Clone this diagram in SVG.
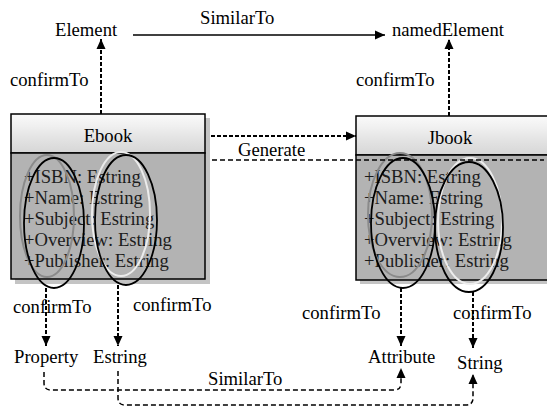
<svg xmlns="http://www.w3.org/2000/svg" width="547" height="416" viewBox="0 0 547 416" font-family="'Liberation Serif', 'Times New Roman', Times, serif" font-size="18.67">
  <defs>
    <linearGradient id="hdr" x1="0" y1="0" x2="0" y2="1">
      <stop offset="0" stop-color="#fafafa"/>
      <stop offset="0.3" stop-color="#f0f0f0"/>
      <stop offset="0.6" stop-color="#e4e4e4"/>
      <stop offset="1" stop-color="#d6d6d6"/>
    </linearGradient>
    <marker id="ah" viewBox="0 0 10 10" refX="10" refY="5" markerWidth="10" markerHeight="10" markerUnits="userSpaceOnUse" orient="auto">
      <path d="M0,0.5 L10,5 L0,9.5 Z" fill="#000"/>
    </marker>
    <style>
      text { fill: #000; }
      .attr { fill: #1c1c1c; }
      .shadow { fill: #c4c4c4; }
      .head { fill: url(#hdr); stroke: #000; stroke-width: 1.5; }
      .body { fill: #b3b3b3; stroke: #000; stroke-width: 1.5; }
      .ring-dark { fill: none; stroke: #000; stroke-width: 1.8; }
      .ring-grey { fill: none; stroke: #8a8a8a; stroke-width: 2; }
      .ring-light { fill: none; stroke: #ececec; stroke-width: 2; }
      .dash { fill: none; stroke: #000; stroke-width: 2; stroke-dasharray: 4 2; }
      .dash-thin { fill: none; stroke: #000; stroke-width: 1.5; stroke-dasharray: 5 3; }
      .solid { fill: none; stroke: #000; stroke-width: 1.5; }
    </style>
  </defs>

  <!-- connectors -->
  <g id="connectors">
    <line class="solid" x1="133" y1="35" x2="385" y2="35" marker-end="url(#ah)"/>
    <line class="dash" x1="101" y1="114" x2="101" y2="39" marker-end="url(#ah)"/>
    <line class="dash" x1="449" y1="116" x2="449" y2="39" marker-end="url(#ah)"/>
    <line class="dash" x1="205" y1="136" x2="356" y2="136" stroke-width="2.5" marker-end="url(#ah)"/>
    <path class="dash-thin" d="M148,160 L544,160"/>
    <line class="dash-thin" x1="544" y1="161" x2="502" y2="177" marker-end="url(#ah)"/>
    <line class="dash" x1="46" y1="288" x2="46" y2="346" marker-end="url(#ah)"/>
    <line class="dash" x1="118" y1="285" x2="118" y2="346" marker-end="url(#ah)"/>
    <line class="dash" x1="401" y1="288" x2="401" y2="346" marker-end="url(#ah)"/>
    <line class="dash" x1="473" y1="292" x2="473" y2="348" marker-end="url(#ah)"/>
    <path class="dash-thin" d="M44,372 L44,383 Q44,390 51,390 L394,390 Q401,390 401,383 L401,368" marker-end="url(#ah)"/>
    <path class="dash-thin" d="M118,371 L118,398 Q118,405 125,405 L466,405 Q473,405 473,398 L473,374" marker-end="url(#ah)"/>
  </g>

  <!-- connector labels -->
  <g id="labels">
    <text x="200" y="24">SimilarTo</text>
    <text x="10" y="86">confirmTo</text>
    <text x="356" y="86">confirmTo</text>
    <text x="238" y="156">Generate</text>
    <text x="13" y="313">confirmTo</text>
    <text x="133" y="311">confirmTo</text>
    <text x="302" y="319">confirmTo</text>
    <text x="453" y="319">confirmTo</text>
    <text x="208" y="385">SimilarTo</text>
  </g>

  <g id="element"><text x="55" y="36">Element</text></g>
  <g id="namedElement"><text x="392" y="36">namedElement</text></g>
  <g id="property"><text x="14" y="363">Property</text></g>
  <g id="estring"><text x="93" y="363">Estring</text></g>
  <g id="attribute"><text x="368" y="363">Attribute</text></g>
  <g id="string"><text x="457" y="369">String</text></g>

  <!-- Ebook class -->
  <g id="ebook">
    <rect class="shadow" x="15" y="118" width="195" height="166"/>
    <rect class="head" x="11" y="114" width="194" height="39"/>
    <rect class="body" x="11" y="153" width="194" height="126"/>
    <text x="108" y="142" text-anchor="middle">Ebook</text>
    <text class="attr" x="24" y="183">+ISBN: Estring</text>
    <text class="attr" x="24" y="204">+Name: Estring</text>
    <text class="attr" x="24" y="225">+Subject: Estring</text>
    <text class="attr" x="24" y="246">+Overview: Estring</text>
    <text class="attr" x="24" y="267">+Publisher: Estring</text>
    <ellipse class="ring-grey" cx="47" cy="216" rx="27" ry="61"/>
    <ellipse class="ring-dark" cx="54" cy="223" rx="30" ry="65"/>
    <ellipse class="ring-light" cx="121" cy="214" rx="29" ry="62"/>
    <ellipse class="ring-dark" cx="126" cy="220" rx="31" ry="65"/>
  </g>

  <!-- Jbook class -->
  <g id="jbook">
    <rect class="shadow" x="360" y="120" width="190" height="164"/>
    <rect class="head" x="356" y="116" width="193" height="39"/>
    <rect class="body" x="356" y="155" width="193" height="125"/>
    <text x="450" y="144" text-anchor="middle">Jbook</text>
    <text class="attr" x="364" y="183">+ISBN: Estring</text>
    <text class="attr" x="364" y="204">+Name: Estring</text>
    <text class="attr" x="364" y="225">+Subject: Estring</text>
    <text class="attr" x="364" y="246">+Overview: Estring</text>
    <text class="attr" x="364" y="267">+Publisher: Estring</text>
    <ellipse class="ring-grey" cx="400" cy="215" rx="32" ry="62"/>
    <ellipse class="ring-dark" cx="403" cy="223" rx="32" ry="65"/>
    <ellipse class="ring-light" cx="470" cy="221" rx="32" ry="63"/>
    <ellipse class="ring-dark" cx="469" cy="227" rx="34" ry="65"/>
    <line class="dash-thin" x1="356" y1="160" x2="544" y2="160"/>
  </g>
</svg>
